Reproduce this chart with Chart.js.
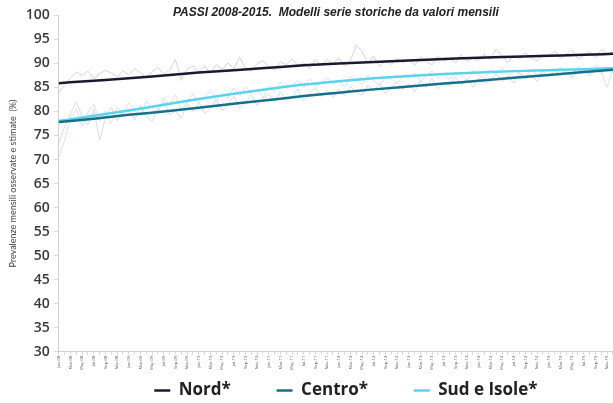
<!DOCTYPE html>
<html><head><meta charset="utf-8">
<script src="https://cdn.jsdelivr.net/npm/chart.js@4.4.1/dist/chart.umd.min.js"></script>
<style>html,body{margin:0;padding:0;background:#fff;overflow:hidden}#wrap{width:619px;height:403px;position:relative}</style>
</head><body><div id="wrap"><canvas id="c"></canvas></div>
<script>
const monthNames = ['Jan','Feb','Mar','Apr','May','Jun','Jul','Aug','Sep','Oct','Nov','Dec'];
const years = ['08','09','10','11','12','13','14','15'];
const categories = years.flatMap(y => monthNames.map(m => m + '-' + y));

// fitted model values, read every 6 months
const fitX = ['Jan-08','Jul-08','Jan-09','Jul-09','Jan-10','Jul-10','Jan-11','Jul-11','Jan-12','Jul-12','Jan-13','Jul-13','Jan-14','Jul-14','Jan-15','Jul-15','Dec-15'];
const nordFit   = [85.9,86.4,86.9,87.5,88.1,88.6,89.1,89.6,90.0,90.3,90.6,90.9,91.2,91.4,91.6,91.8,92.0];
const centroFit = [77.8,78.5,79.3,80.0,80.8,81.6,82.4,83.2,83.9,84.6,85.2,85.8,86.4,87.0,87.6,88.2,88.7];
const sudFit    = [78.0,79.1,80.2,81.4,82.6,83.7,84.7,85.6,86.3,86.9,87.4,87.8,88.1,88.4,88.6,88.8,89.0];
const seriesNames = ['Nord*', 'Centro*', 'Sud e Isole*'];

// observed monthly values (faint lines)
const nordObs = [
 84.0,85.5,87.0,88.2,87.5,88.4,86.8,87.9,88.6,88.0,87.2,88.5,
 87.6,88.9,88.1,86.9,88.3,89.2,87.7,88.6,90.8,86.5,88.9,89.4,
 88.2,89.5,88.0,89.8,88.7,90.1,88.9,91.3,89.0,88.4,89.9,90.6,
 89.3,88.6,90.4,89.7,91.0,89.5,90.2,88.9,90.8,89.6,90.9,89.8,
 91.2,89.4,90.6,93.8,92.5,90.1,91.5,89.3,90.7,89.8,91.1,90.2,
 90.9,89.6,91.4,90.3,89.7,91.6,90.5,91.0,90.1,91.8,90.4,91.2,
 90.6,91.9,90.8,93.0,91.4,90.2,91.7,90.9,92.3,91.1,90.5,91.8,
 91.3,92.6,91.0,91.9,92.8,90.9,91.6,92.4,91.2,92.9,91.8,92.5];
const centroObs = [
 73.5,76.8,79.5,82.0,79.0,77.2,80.5,74.0,78.8,80.9,78.1,79.6,
 80.4,78.2,81.3,79.0,77.9,80.8,82.1,79.4,80.2,78.6,81.7,80.0,
 81.9,79.5,80.7,82.6,80.1,81.4,83.2,80.6,81.8,83.5,81.2,82.7,
 83.6,81.9,84.1,82.5,83.0,84.7,82.2,83.8,85.0,83.1,84.4,82.9,
 84.6,83.3,85.2,84.0,83.4,85.5,84.2,85.9,83.7,85.1,86.2,84.5,
 85.8,84.1,86.4,85.0,86.9,84.7,86.1,85.3,87.2,85.6,86.7,85.1,
 87.0,85.8,86.5,87.9,86.2,87.4,85.9,88.1,86.8,87.6,86.3,88.4,
 87.2,88.6,87.5,88.9,86.9,88.2,89.0,87.4,88.8,87.9,89.3,88.1];
const sudObs = [
 70.5,74.0,78.6,80.5,76.9,79.8,81.6,78.0,80.2,77.5,81.0,79.4,
 81.8,80.1,78.9,82.3,80.7,79.6,82.9,81.2,83.5,80.4,82.0,83.7,
 81.9,83.0,84.4,82.3,83.8,82.7,84.9,83.2,85.1,83.9,84.6,82.8,
 85.3,84.0,86.1,84.7,85.5,86.4,84.9,86.8,85.2,86.0,87.1,85.6,
 86.5,85.1,87.3,86.2,85.8,87.6,86.4,85.5,87.0,86.7,85.9,87.4,
 86.8,88.0,86.3,87.5,88.4,86.9,87.8,86.6,88.2,87.3,86.5,88.6,
 87.6,86.9,88.7,87.8,89.1,87.2,88.5,87.9,86.8,88.9,87.4,88.3,
 88.8,87.5,89.2,88.1,87.3,89.4,88.6,87.8,89.6,88.3,85.0,88.9];

const yTicksMin = 30, yTicksMax = 100, yStep = 5;

const toPts = (xs, ys) => xs.map((x, i) => ({x, y: ys[i]}));

const fitted = (label, data, color) => ({
  label, data: toPts(fitX, data), borderColor: color, backgroundColor: color,
  borderWidth: 2.5, pointRadius: 0, cubicInterpolationMode: 'monotone', order: 0
});
const observed = (data, color) => ({
  label: '_obs', data, borderColor: color, borderWidth: 1, pointRadius: 0, tension: 0, order: 1
});

const legendGap = '         ';

// nudge the legend block (style offset only)
const legendNudge = {
  id: 'legendNudge',
  afterLayout(chart) {
    const lg = chart.legend;
    if (!lg) return;
    lg.left += 10; lg.right += 10;
    lg.top += 5; lg.bottom += 5;
  }
};

new Chart(document.getElementById('c'), {
  type: 'line',
  data: {
    labels: categories,
    datasets: [
      fitted(seriesNames[0], nordFit, '#1c1830'),
      fitted(seriesNames[1], centroFit, '#17708a'),
      fitted(seriesNames[2], sudFit, '#5cd3ec'),
      observed(nordObs, '#d6d6d6'),
      observed(centroObs, '#d2dfe3'),
      observed(sudObs, '#d5e6ea')
    ]
  },
  plugins: [legendNudge],
  options: {
    responsive: true, maintainAspectRatio: false, animation: false,
    layout: { padding: { left: 8, right: 0, top: 0, bottom: -1 } },
    plugins: {
      tooltip: { enabled: false },
      title: {
        display: true, fullSize: false,
        text: 'PASSI 2008-2015.  Modelli serie storiche da valori mensili',
        color: '#222',
        font: { family: "'Liberation Sans Narrow', 'Liberation Sans', sans-serif", size: 12, weight: 'bold', style: 'italic' },
        padding: { top: 5, bottom: -4 }
      },
      legend: {
        position: 'bottom', fullSize: false,
        labels: {
          usePointStyle: true, pointStyle: 'line', pointStyleWidth: 16,
          color: '#222', padding: 6,
          font: { family: "'Open Sans', sans-serif", size: 17, weight: 'bold' },
          generateLabels: chart => {
            const items = Chart.defaults.plugins.legend.labels.generateLabels(chart)
              .filter(it => it.text !== '_obs');
            items.forEach((it, i) => { if (i < items.length - 1) it.text = it.text + legendGap; it.lineWidth = 2.5; });
            return items;
          }
        }
      }
    },
    scales: {
      x: {
        type: 'category', offset: false,
        grid: { display: true, drawOnChartArea: false, color: '#d9d9d9', tickLength: 3 },
        border: { color: '#d0d0d0' },
        ticks: {
          autoSkip: false, maxRotation: 90, minRotation: 90, color: '#555', padding: 1,
          font: { family: "'Open Sans', sans-serif", size: 4.2 },
          callback: (v, i) => (i % 2 === 0 ? categories[i] : '')
        }
      },
      y: {
        min: yTicksMin, max: yTicksMax,
        grid: { display: true, drawOnChartArea: false, color: '#d9d9d9', tickLength: 5 },
        border: { color: '#d0d0d0' },
        ticks: { stepSize: yStep, color: '#3a3a3a', padding: 4,
          font: { family: "'Open Sans', sans-serif", size: 14, weight: 600 } },
        title: { display: true, text: 'Prevalenze mensili osservate e stimate  (%)', color: '#444',
          font: { family: "Lato, sans-serif", size: 9 }, padding: { top: 0, bottom: 3 } }
      }
    }
  }
});
</script></body></html>
